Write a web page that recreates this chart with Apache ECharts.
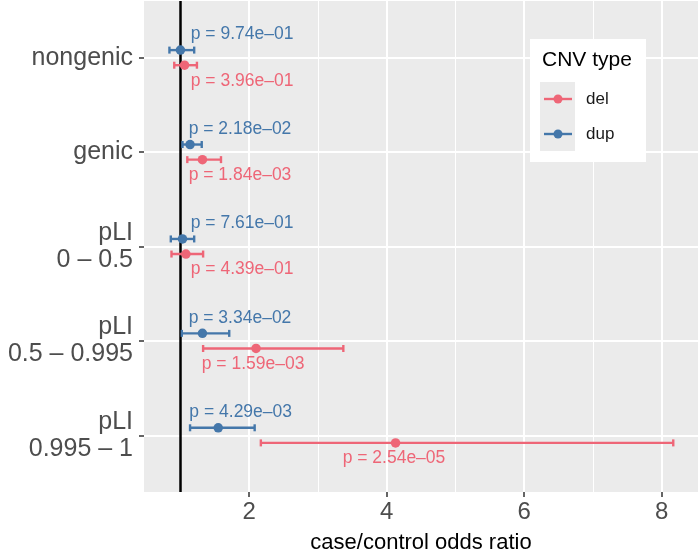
<!DOCTYPE html>
<html lang="en">
<head>
    <meta charset="utf-8">
    <title>CNV odds ratios</title>
    <script src="https://cdn.jsdelivr.net/npm/echarts@6.0.0/dist/echarts.min.js"></script>
    <style>
        body { margin: 0; background: #fff; }
        #chart { width: 700px; height: 555px; }
    </style>
</head>
<body>
<div id="chart"></div>
<script>
    // categories, top to bottom
    const categories = ['nongenic', 'genic', 'pLI\n0 – 0.5', 'pLI\n0.5 – 0.995', 'pLI\n0.995 – 1'];

    // deletions
    const delOR = [1.06, 1.32, 1.08, 2.10, 4.13];
    const delLo = [0.91, 1.10, 0.87, 1.33, 2.17];
    const delHi = [1.24, 1.59, 1.33, 3.37, 8.17];
    const delP = ['3.96e–01', '1.84e–03', '4.39e–01', '1.59e–03', '2.54e–05'];
    const delLabelX = [1.15, 1.12, 1.15, 1.31, 3.36];

    // duplications
    const dupOR = [1.00, 1.14, 1.03, 1.32, 1.55];
    const dupLo = [0.84, 1.03, 0.86, 1.02, 1.14];
    const dupHi = [1.20, 1.31, 1.20, 1.71, 2.08];
    const dupP = ['9.74e–01', '2.18e–02', '7.61e–01', '3.34e–02', '4.29e–03'];
    const dupLabelX = [1.15, 1.12, 1.15, 1.12, 1.13];

    const xTicks = [2, 4, 6, 8];
    const xMinor = [1, 3, 5, 7];

    const FONT = '"Liberation Sans", Arial, sans-serif';
    const DEL = '#EE6677', DUP = '#4477AA';
    const DODGE = 0.08, LABEL_OFF = 0.245;

    function rows(or, lo, hi, p, lx, shift, labShift) {
        return or.map(function (v, i) {
            return [lo[i], hi[i], i + 1 + shift, v, lx[i], 'p = ' + p[i], i + 1 + labShift];
        });
    }

    function barRenderer(color) {
        return function (params, api) {
            const y = api.value(2);
            const a = api.coord([api.value(0), y]);
            const b = api.coord([api.value(1), y]);
            const t = api.coord([api.value(4), api.value(6)]);
            const st = { stroke: color, lineWidth: 2.4 };
            return {
                type: 'group',
                children: [
                    { type: 'line', shape: { x1: a[0], y1: a[1], x2: b[0], y2: b[1] }, style: st },
                    { type: 'line', shape: { x1: a[0], y1: a[1] - 3.5, x2: a[0], y2: a[1] + 3.5 }, style: st },
                    { type: 'line', shape: { x1: b[0], y1: b[1] - 3.5, x2: b[0], y2: b[1] + 3.5 }, style: st },
                    {
                        type: 'text', x: t[0], y: t[1],
                        style: {
                            text: api.value(5), fill: color, fontSize: 17.5, fontFamily: FONT,
                            align: 'left', verticalAlign: 'middle'
                        }
                    }
                ]
            };
        };
    }

    const chart = echarts.init(document.getElementById('chart'));

    const gridLines = xTicks.map(function (v) { return { xAxis: v }; })
        .concat(xMinor.map(function (v) { return { xAxis: v, lineStyle: { width: 1 } }; }))
        .concat(categories.map(function (c, i) { return { yAxis: i + 1 }; }));

    const option = {
        animation: false,
        textStyle: { fontFamily: FONT },
        grid: {
            left: 144, right: 2, top: 1, bottom: 63,
            containLabel: false, outerBoundsMode: 'none',
            show: true, backgroundColor: '#EBEBEB', borderWidth: 0
        },
        xAxis: {
            type: 'value', min: 0.47, max: 8.53,
            splitLine: { show: false },
            axisLine: { show: false },
            axisTick: { show: true, length: 5, customValues: xTicks, lineStyle: { color: '#333', width: 1.5 } },
            axisLabel: { customValues: xTicks, fontSize: 24, color: '#4D4D4D', margin: 8 },
            name: 'case/control odds ratio',
            nameLocation: 'middle', nameGap: 40,
            nameTextStyle: { fontSize: 22, color: '#000' }
        },
        yAxis: {
            type: 'value', min: 0.4, max: 5.6, inverse: true,
            splitLine: { show: false },
            axisLine: { show: false },
            axisTick: { show: true, length: 5, customValues: [1, 2, 3, 4, 5], lineStyle: { color: '#333', width: 1.5 } },
            axisLabel: {
                customValues: [1, 2, 3, 4, 5],
                formatter: function (v) { return categories[Math.round(v) - 1]; },
                fontSize: 25, lineHeight: 27, color: '#4D4D4D', align: 'right', margin: 11
            }
        },
        series: [
            {
                type: 'scatter', data: [], z: 1, silent: true,
                markLine: {
                    silent: true, symbol: 'none', label: { show: false }, z: 1,
                    lineStyle: { color: '#fff', width: 2, type: 'solid' },
                    data: gridLines
                }
            },
            {
                type: 'scatter', data: [], z: 2, silent: true,
                markLine: {
                    silent: true, symbol: 'none', label: { show: false }, z: 2,
                    lineStyle: { color: '#000', width: 2.5, type: 'solid' },
                    data: [{ xAxis: 1 }]
                }
            },
            {
                name: 'del', type: 'custom', z: 3,
                renderItem: barRenderer(DEL),
                encode: { x: [0, 1], y: 2 },
                data: rows(delOR, delLo, delHi, delP, delLabelX, DODGE, LABEL_OFF)
            },
            {
                name: 'dup', type: 'custom', z: 3,
                renderItem: barRenderer(DUP),
                encode: { x: [0, 1], y: 2 },
                data: rows(dupOR, dupLo, dupHi, dupP, dupLabelX, -DODGE, -LABEL_OFF)
            },
            {
                type: 'scatter', z: 4, symbolSize: 9.5,
                itemStyle: { color: DEL, opacity: 1 },
                data: delOR.map(function (v, i) { return [v, i + 1 + DODGE]; })
            },
            {
                type: 'scatter', z: 4, symbolSize: 9.5,
                itemStyle: { color: DUP, opacity: 1 },
                data: dupOR.map(function (v, i) { return [v, i + 1 - DODGE]; })
            }
        ],
        graphic: [
            { type: 'rect', left: 530, top: 39, shape: { width: 116, height: 123 }, style: { fill: '#fff' }, z: 10 },
            { type: 'text', left: 542, top: 50, style: { text: 'CNV type', fontSize: 21, fontFamily: FONT, fill: '#000' }, z: 11 },
            { type: 'rect', left: 540, top: 82, shape: { width: 35, height: 69 }, style: { fill: '#EBEBEB' }, z: 11 },
            { type: 'line', shape: { x1: 544, y1: 99, x2: 572, y2: 99 }, style: { stroke: DEL, lineWidth: 2.4 }, z: 12 },
            { type: 'circle', shape: { cx: 558, cy: 99, r: 4.5 }, style: { fill: DEL }, z: 12 },
            { type: 'line', shape: { x1: 544, y1: 134, x2: 572, y2: 134 }, style: { stroke: DUP, lineWidth: 2.4 }, z: 12 },
            { type: 'circle', shape: { cx: 558, cy: 134, r: 4.5 }, style: { fill: DUP }, z: 12 },
            { type: 'text', left: 586, top: 91, style: { text: 'del', fontSize: 17, fontFamily: FONT, fill: '#1A1A1A' }, z: 11 },
            { type: 'text', left: 586, top: 126, style: { text: 'dup', fontSize: 17, fontFamily: FONT, fill: '#1A1A1A' }, z: 11 }
        ]
    };
    chart.setOption(option);
</script>
</body>
</html>
